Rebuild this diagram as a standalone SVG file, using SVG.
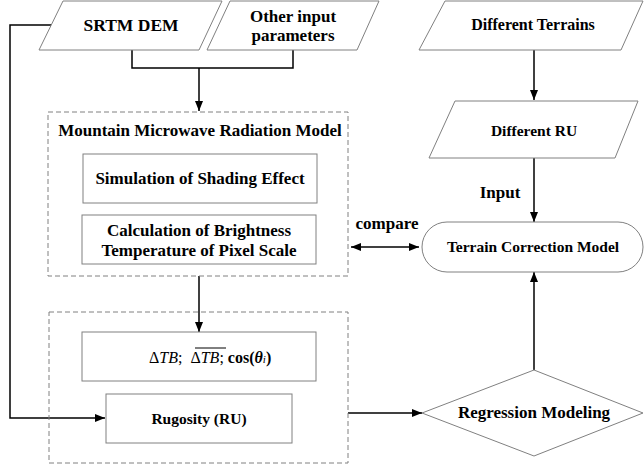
<svg xmlns="http://www.w3.org/2000/svg" width="644" height="469" viewBox="0 0 644 469">
<defs>
<marker id="ah" viewBox="0 0 10 10" refX="10" refY="5" markerWidth="10" markerHeight="10" markerUnits="userSpaceOnUse" orient="auto-start-reverse">
<path d="M0,1 L10,5 L0,9 z" fill="#000"/>
</marker>
<style>
.sh{fill:#fff;stroke:#808080;stroke-width:1}
.dash{fill:none;stroke:#808080;stroke-width:1;stroke-dasharray:5,3}
.t{font-weight:bold;fill:#000;text-anchor:middle}
.c{fill:none;stroke:#000;stroke-width:1.5}
.arr{fill:none;stroke:#000;stroke-width:1.5;marker-end:url(#ah)}
</style>
</defs>
<rect width="644" height="469" fill="#fff"/>
<g font-family="Liberation Serif, DejaVu Serif, serif">
<g id="connectors">
<polyline class="c" points="132,50 132,68 293,68 293,50"/>
<line class="arr" x1="199" y1="68" x2="199" y2="111"/>
<polyline class="arr" points="51,25 10,25 10,418 105,418"/>
<line class="arr" x1="534" y1="50" x2="534" y2="100"/>
<line class="arr" x1="534" y1="158" x2="534" y2="222"/>
<line class="arr" x1="199" y1="276" x2="199" y2="332"/>
<line class="c" x1="351" y1="247" x2="419" y2="247" style="marker-start:url(#ah);marker-end:url(#ah)"/>
<line class="arr" x1="348" y1="413" x2="422" y2="413"/>
<line class="arr" x1="534" y1="370" x2="534" y2="272"/>
<text class="t" x="387" y="229" font-size="17">compare</text>
<text class="t" x="500" y="198" font-size="17">Input</text>
</g>
<g id="srtm">
<polygon class="sh" points="63,1 222,1 199,50 39,50"/>
<text class="t" x="131" y="31" font-size="17.5">SRTM DEM</text>
</g>
<g id="other">
<polygon class="sh" points="230,1 379,1 357,50 207,50"/>
<text class="t" x="293" y="22" font-size="17">Other input</text>
<text class="t" x="293" y="41" font-size="17">parameters</text>
</g>
<g id="terrains">
<polygon class="sh" points="445,1 643,1 621,50 419,50"/>
<text class="t" x="533" y="30" font-size="16">Different Terrains</text>
</g>
<g id="ru">
<polygon class="sh" points="455,101 638,101 615,158 429,158"/>
<text class="t" x="534" y="136" font-size="15.5">Different RU</text>
</g>
<g id="model">
<rect class="dash" x="48" y="112" width="300" height="164"/>
<text class="t" x="200" y="136" font-size="17">Mountain Microwave Radiation Model</text>
</g>
<g id="shading">
<rect class="sh" x="83" y="154" width="234" height="49"/>
<text class="t" x="200" y="184" font-size="17">Simulation of Shading Effect</text>
</g>
<g id="calc">
<rect class="sh" x="82" y="215" width="234" height="49"/>
<text class="t" x="199" y="236" font-size="17">Calculation of Brightness</text>
<text class="t" x="199" y="256" font-size="17">Temperature of Pixel Scale</text>
</g>
<g id="group2">
<rect class="dash" x="49" y="312" width="299" height="151"/>
</g>
<g id="dtb">
<rect class="sh" x="82" y="332" width="234" height="49"/>
<text x="149" y="363" font-size="16" fill="#000"><tspan>Δ</tspan><tspan font-style="italic">TB</tspan><tspan>;</tspan><tspan dx="8">Δ</tspan><tspan font-style="italic">TB</tspan><tspan>; </tspan><tspan font-weight="bold">cos(</tspan><tspan font-weight="bold" font-style="italic">θ</tspan><tspan font-style="italic" font-size="11">i</tspan><tspan font-weight="bold">)</tspan></text>
<line x1="195" y1="348" x2="226" y2="348" stroke="#000" stroke-width="1"/>
</g>
<g id="rugosity">
<rect class="sh" x="106" y="394" width="186" height="49"/>
<text class="t" x="199" y="424" font-size="15.5">Rugosity (RU)</text>
</g>
<g id="tcm">
<rect class="sh" x="422" y="222" width="221" height="50" rx="25" ry="25"/>
<text class="t" x="533" y="252" font-size="15.5">Terrain Correction Model</text>
</g>
<g id="regression">
<polygon class="sh" points="422,413 534,370 643,413 534,456"/>
<text class="t" x="534" y="418" font-size="17">Regression Modeling</text>
</g>
</g>
</svg>
